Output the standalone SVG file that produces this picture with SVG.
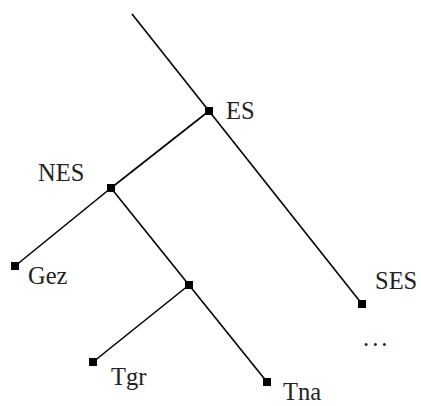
<svg xmlns="http://www.w3.org/2000/svg" width="421" height="406" viewBox="0 0 421 406">
<style>
.e{stroke:#000;stroke-width:1.6;fill:none}
.n{fill:#000}
.t{font-family:"Liberation Serif",serif;font-size:24.5px;fill:#222}
</style>
<rect width="421" height="406" fill="#fff"/>
<g id="edges">
<line class="e" x1="132" y1="14" x2="209" y2="111"/>
<line class="e" x1="209" y1="111" x2="111" y2="188"/>
<line class="e" x1="209" y1="111" x2="362" y2="304"/>
<line class="e" x1="111" y1="188" x2="15" y2="266"/>
<line class="e" x1="111" y1="188" x2="189" y2="285"/>
<line class="e" x1="189" y1="285" x2="93" y2="362"/>
<line class="e" x1="189" y1="285" x2="267" y2="382"/>
</g>
<g id="ES"><rect class="n" x="205" y="107" width="8" height="8"/><text class="t" x="226" y="119">ES</text></g>
<g id="NES"><rect class="n" x="107" y="184" width="8" height="8"/><text class="t" x="38" y="181">NES</text></g>
<g id="Gez"><rect class="n" x="11" y="262" width="8" height="8"/><text class="t" x="28" y="284">Gez</text></g>
<g id="inner"><rect class="n" x="185" y="281" width="8" height="8"/></g>
<g id="Tgr"><rect class="n" x="89" y="358" width="8" height="8"/><text class="t" x="111" y="385">Tgr</text></g>
<g id="Tna"><rect class="n" x="263" y="378" width="8" height="8"/><text class="t" x="283" y="400">Tna</text></g>
<g id="SES"><rect class="n" x="358" y="300" width="8" height="8"/><text class="t" x="375" y="289">SES</text></g>
<g id="more"><text class="t" x="363" y="346" letter-spacing="3">...</text></g>
</svg>
